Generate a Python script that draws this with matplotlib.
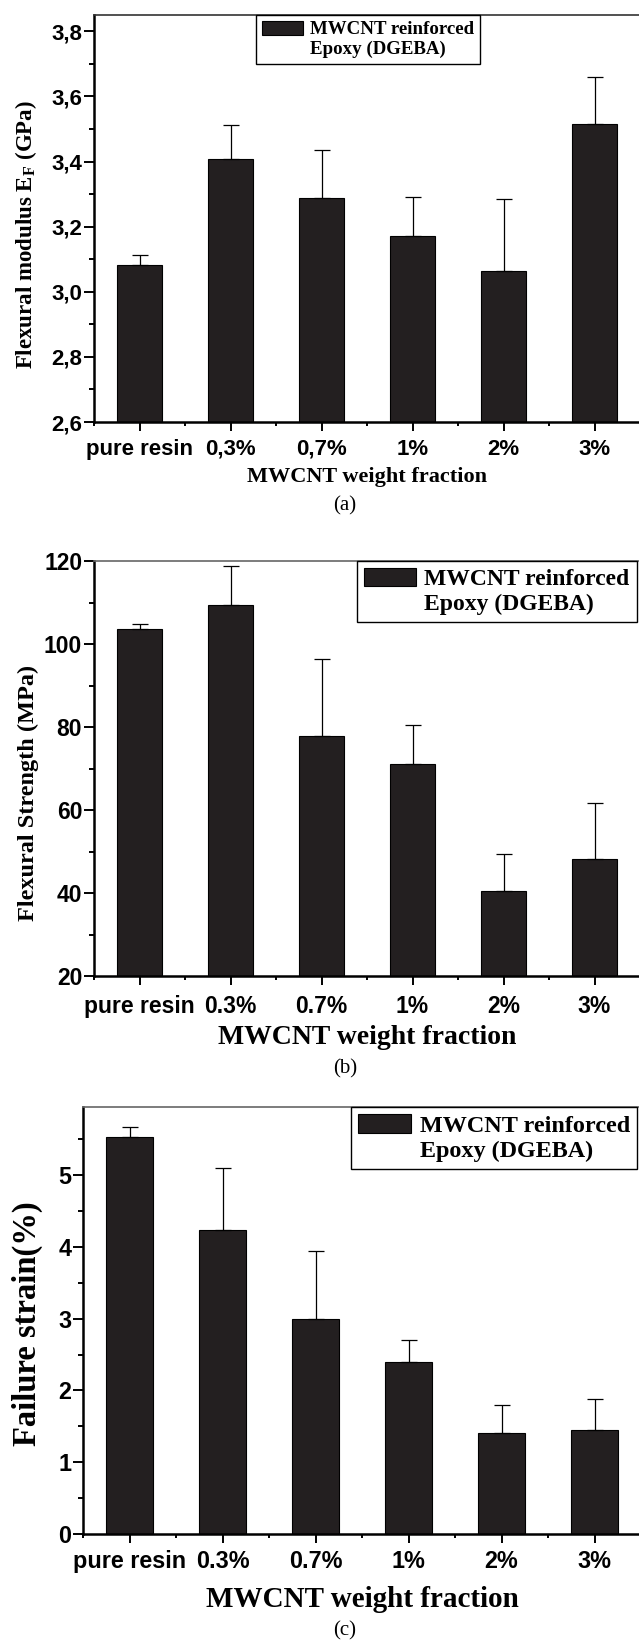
import matplotlib.pyplot as plt
from matplotlib.patches import Patch
from matplotlib.ticker import FixedLocator, FuncFormatter

W, H = 639, 1641

# data for the three panels
labels_a = ["pure resin", "0,3%", "0,7%", "1%", "2%", "3%"]
labels_bc = ["pure resin", "0.3%", "0.7%", "1%", "2%", "3%"]

modulus = [3.081, 3.409, 3.287, 3.170, 3.065, 3.516]
modulus_err = [0.032, 0.103, 0.149, 0.120, 0.219, 0.143]

strength = [103.6, 109.4, 77.9, 71.2, 40.5, 48.1]
strength_err = [1.3, 9.3, 18.6, 9.3, 8.8, 13.7]

strain = [5.53, 4.23, 3.00, 2.40, 1.41, 1.45]
strain_err = [0.14, 0.87, 0.95, 0.30, 0.39, 0.43]

yticks_a = [2.6, 2.8, 3.0, 3.2, 3.4, 3.6, 3.8]
yticks_b = [20, 40, 60, 80, 100, 120]
yticks_c = [0, 1, 2, 3, 4, 5]

legend_lines = ["MWCNT reinforced", "Epoxy (DGEBA)"]

BAR = "#231f20"
SERIF = "Liberation Serif"
SANS = "Liberation Sans"

plt.rcParams["mathtext.fontset"] = "custom"
plt.rcParams["mathtext.rm"] = "Liberation Serif:bold"
plt.rcParams["mathtext.bf"] = "Liberation Serif:bold"

fig = plt.figure(figsize=(W / 100, H / 100), dpi=100)


def px_axes(left, top, right, bottom):
    return fig.add_axes([left / W, 1 - bottom / H, (right - left) / W, (bottom - top) / H])


def panel(ax, xlabels, vals, errs, ylim, yticks, ystep, ylabel, ylab_size,
          xlab_size, tick_size, xpad, xlabpad, leg_x, leg_size, top_color,
          comma=False):
    x = range(len(vals))
    lower = [0] * len(vals)
    bars = ax.bar(x, vals, width=0.5, color=BAR, edgecolor="black", linewidth=0.8,
                  yerr=[lower, errs], capsize=6,
                  error_kw=dict(ecolor="black", elinewidth=0.9, capthick=0.9),
                  zorder=2)
    ax.set_xlim(-0.5, len(vals) - 0.5)
    ax.set_ylim(*ylim)

    ax.set_xticks(list(x))
    ax.set_xticklabels(xlabels)
    ax.xaxis.set_minor_locator(FixedLocator([i - 0.5 for i in range(len(vals) + 1)]))
    ax.set_yticks(yticks)
    minor_y = [yticks[0] + ystep * (k + 0.5) for k in range(len(yticks))]
    ax.yaxis.set_minor_locator(FixedLocator(minor_y))
    if comma:
        ax.yaxis.set_major_formatter(FuncFormatter(lambda v, p: f"{v:.1f}".replace(".", ",")))

    ax.tick_params(axis="both", which="both", direction="out", width=1.4,
                   top=False, right=False)
    ax.tick_params(axis="y", which="major", length=7, pad=1.5)
    ax.tick_params(axis="y", which="minor", length=3.5)
    ax.tick_params(axis="x", which="major", length=6.5, pad=xpad)
    ax.tick_params(axis="x", which="minor", length=3)
    for lab in ax.get_xticklabels() + ax.get_yticklabels():
        lab.set_fontfamily(SANS)
        lab.set_fontweight("bold")
        lab.set_fontsize(tick_size)

    for side in ["left", "bottom", "right"]:
        ax.spines[side].set_linewidth(1.8)
    ax.spines["top"].set_linewidth(1.2)
    ax.spines["top"].set_color(top_color)

    ax.set_ylabel(ylabel, family=SERIF, weight="bold", fontsize=ylab_size)
    ax.set_xlabel("MWCNT weight fraction", family=SERIF, weight="bold",
                  fontsize=xlab_size, labelpad=xlabpad)

    blank = Patch(facecolor="none", edgecolor="none")
    leg = ax.legend([bars, blank], legend_lines, loc="upper left",
                    bbox_to_anchor=(leg_x, 1.0), borderaxespad=0,
                    prop=dict(family=SERIF, weight="bold", size=leg_size),
                    fancybox=False, edgecolor="black", framealpha=1,
                    handlelength=2.2, handleheight=0.8, handletextpad=0.35,
                    labelspacing=0.1, borderpad=0.3)
    leg.get_frame().set_linewidth(1.0)
    return ax


ax_a = px_axes(94, 15, 640, 422)
panel(ax_a, labels_a, modulus, modulus_err, (2.6, 3.85), yticks_a, 0.2,
      r"Flexural modulus E$_{\mathrm{F}}$ (GPa)", 16.5, 16, 16, 5.5, 5,
      0.297, 13.6, "#333333", comma=True)
ax_a.yaxis.set_label_coords(-0.1, 0.46)

ax_b = px_axes(94, 561, 640, 976)
panel(ax_b, labels_bc, strength, strength_err, (20, 120), yticks_b, 20,
      "Flexural Strength (MPa)", 17.5, 20, 16.5, 7, 5, 0.482, 17, "#666666")
ax_b.yaxis.set_label_coords(-0.1, 0.44)

ax_c = px_axes(83, 1107, 641, 1534)
panel(ax_c, labels_bc, strain, strain_err, (0, 5.95), yticks_c, 1,
      "Failure strain(%)", 23.5, 21, 16.8, 5, 9.5, 0.48, 17.4, "#666666")
ax_c.yaxis.set_label_coords(-0.072, 0.492)

for ypx, tag in [(506, "(a)"), (1069, "(b)"), (1631, "(c)")]:
    fig.text(345 / W, 1 - ypx / H, tag, ha="center", va="center",
             family=SERIF, fontsize=15)

fig.savefig("out.png", dpi=100)
